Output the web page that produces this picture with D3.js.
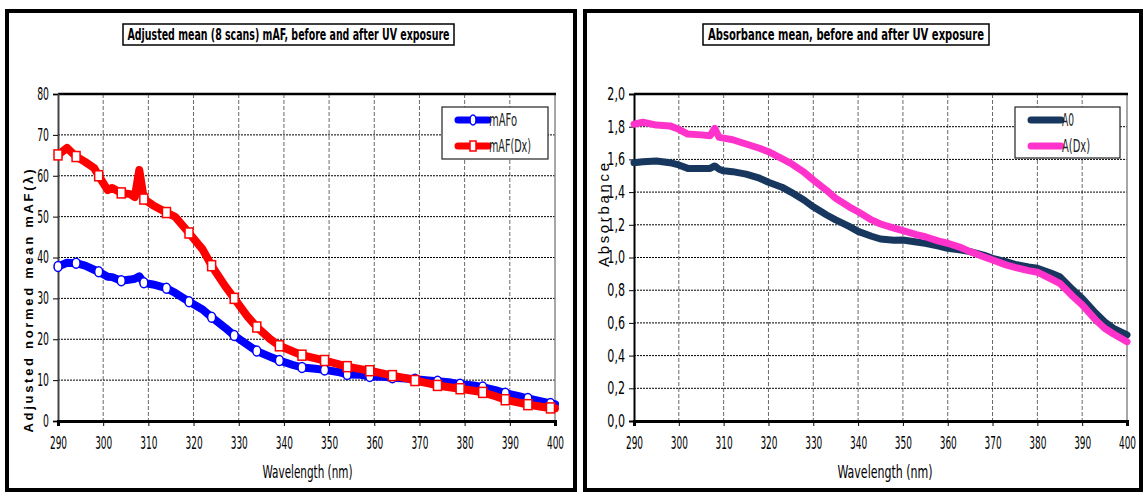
<!DOCTYPE html>
<html>
<head>
<meta charset="utf-8">
<script src="https://cdn.jsdelivr.net/npm/d3@7/dist/d3.min.js"></script>
<style>
  html, body { margin: 0; padding: 0; background: #fff; }
  svg { display: block; }
</style>
</head>
<body>
<svg id="chart" width="1144" height="492"></svg>
<script>
// ---------------- DATA ----------------
const xTicks = [290, 300, 310, 320, 330, 340, 350, 360, 370, 380, 390, 400];
const leftYTicks = [0, 10, 20, 30, 40, 50, 60, 70, 80];
const rightYTicks = [0, 0.2, 0.4, 0.6, 0.8, 1.0, 1.2, 1.4, 1.6, 1.8, 2.0];

const mafWavelengths = [290,292,294,296,298,299,301,302,304,306,307,308,309,311,314,316,319,322,324,327,329,332,334,337,339,342,344,347,349,352,354,357,359,362,364,367,369,372,374,377,379,382,384,387,389,392,394,397,399,400];
const mafMarkerWavelengths = [290,294,299,304,309,314,319,324,329,334,339,344,349,354,359,364,369,374,379,384,389,394,399];
const mAFo = [37.8,38.7,38.6,38.0,37.0,36.5,35.3,35.2,34.3,34.6,34.8,35.4,33.8,33.4,32.5,31.3,29.2,27.3,25.4,22.8,20.9,18.6,17.1,15.7,14.8,13.7,13.1,12.8,12.5,12.0,11.4,11.3,10.9,10.8,10.6,10.4,10.2,9.9,9.7,9.4,9.0,8.7,8.3,7.5,6.8,6.1,5.5,4.8,4.3,4.1];
const mAFDx = [65.1,66.8,64.7,63.4,61.9,60.0,56.5,57.0,55.8,55.5,54.8,61.4,54.3,52.8,51.0,49.9,46.0,42.0,38.0,33.0,30.0,25.5,23.0,20.0,18.4,17.0,16.1,15.3,14.8,13.9,13.3,12.7,12.3,11.6,11.1,10.5,9.9,9.2,8.7,8.2,7.9,7.4,7.0,6.0,5.2,4.5,4.0,3.5,3.2,3.1];

const absWavelengths = [290,292,295,298,300,302,305,307,308,309,310,312,315,318,320,323,325,328,330,333,335,338,340,343,345,348,350,353,355,358,360,363,365,368,370,373,375,378,380,383,385,388,390,393,395,397,400];
const A0 = [1.58,1.585,1.59,1.58,1.566,1.545,1.545,1.545,1.56,1.54,1.53,1.525,1.51,1.485,1.46,1.43,1.40,1.35,1.31,1.26,1.23,1.19,1.16,1.13,1.113,1.105,1.107,1.095,1.087,1.07,1.056,1.045,1.036,1.015,0.995,0.975,0.958,0.942,0.934,0.905,0.883,0.80,0.75,0.66,0.607,0.567,0.526];
const ADx = [1.815,1.827,1.81,1.805,1.784,1.755,1.75,1.745,1.79,1.735,1.73,1.72,1.694,1.668,1.647,1.605,1.576,1.52,1.474,1.41,1.362,1.31,1.28,1.23,1.205,1.18,1.164,1.14,1.127,1.10,1.087,1.06,1.036,1.005,0.985,0.955,0.94,0.92,0.91,0.87,0.842,0.76,0.71,0.618,0.567,0.532,0.485];

const leftTitle = "Adjusted mean (8 scans) mAF, before and after UV exposure";
const rightTitle = "Absorbance mean, before and after UV exposure";
const leftYLabel = "Adjusted normed mean mAF(\u03BB)";
const rightYLabel = "Absorbance";
const xLabel = "Wavelength (nm)";
const leftLegend = ["mAFo", "mAF(Dx)"];
const rightLegend = ["A0", "A(Dx)"];

// ---------------- DRAWING ----------------
const NARROW = "'Liberation Sans Narrow','Arial Narrow','DejaVu Sans Condensed',sans-serif";
const SANS = "'Liberation Sans',Arial,sans-serif";
const svg = d3.select("#chart");

function panel(o) {
  const g = svg.append("g");
  // outer frame
  g.append("rect").attr("x", o.frame[0]).attr("y", o.frame[1])
    .attr("width", o.frame[2]).attr("height", o.frame[3])
    .attr("fill", "#fff").attr("stroke", "#000").attr("stroke-width", 4);

  const x = d3.scaleLinear().domain([290, 400]).range([o.plot[0], o.plot[1]]);
  const y = d3.scaleLinear().domain(o.yDomain).range([o.plot[3], o.plot[2]]);

  // grid
  g.append("g").selectAll("line").data(xTicks.slice(1, -1)).join("line")
    .attr("x1", d => x(d)).attr("x2", d => x(d))
    .attr("y1", o.plot[2]).attr("y2", o.plot[3])
    .attr("stroke", "#6a6a6a").attr("stroke-width", 1).attr("stroke-dasharray", "4,2");
  g.append("g").selectAll("line").data(o.yTicks.slice(1, -1)).join("line")
    .attr("x1", o.plot[0]).attr("x2", o.plot[1])
    .attr("y1", d => y(d)).attr("y2", d => y(d))
    .attr("stroke", "#000").attr("stroke-width", 1).attr("stroke-dasharray", "2,1");

  // plot border: right thin gray, top thick black
  g.append("line").attr("x1", o.plot[1]).attr("x2", o.plot[1])
    .attr("y1", o.plot[2]).attr("y2", o.plot[3])
    .attr("stroke", "#8a8a8a").attr("stroke-width", 1.5);
  g.append("line").attr("x1", o.plot[0]).attr("x2", o.plot[1] + 1)
    .attr("y1", o.plot[2]).attr("y2", o.plot[2])
    .attr("stroke", "#000").attr("stroke-width", 2.5);

  // axes
  const yAxis = g.append("g").attr("transform", `translate(${o.plot[0]},0)`)
    .call(d3.axisLeft(y).tickValues(o.yTicks).tickSize(5).tickPadding(4).tickFormat(o.yFmt));
  yAxis.select(".domain").attr("stroke", o.leftAxisColor).attr("stroke-width", 2);
  yAxis.selectAll(".tick line").attr("stroke", "#000");
  yAxis.selectAll("text").attr("font-family", NARROW).attr("font-size", 17).attr("fill", "#000")
    .attr("textLength", function() { return this.textContent.length * 5.9; })
    .attr("lengthAdjust", "spacingAndGlyphs");

  const xAxis = g.append("g").attr("transform", `translate(0,${o.plot[3]})`)
    .call(d3.axisBottom(x).tickValues(xTicks).tickSize(5).tickPadding(11).tickFormat(d3.format("d")));
  xAxis.select(".domain").attr("stroke", "#000").attr("stroke-width", 3);
  xAxis.selectAll(".tick line").attr("stroke", "#000");
  xAxis.selectAll("text").attr("font-family", NARROW).attr("font-size", 17).attr("fill", "#000")
    .attr("textLength", function() { return this.textContent.length * 5.7; })
    .attr("lengthAdjust", "spacingAndGlyphs");

  // series
  const clip = g.append("g");
  o.series.forEach(s => {
    const pts = s.xs.map((w, i) => [w, s.ys[i]]);
    clip.append("path").datum(pts)
      .attr("d", d3.line().x(d => x(d[0])).y(d => y(d[1])))
      .attr("fill", "none").attr("stroke", s.color).attr("stroke-width", s.width)
      .attr("stroke-linejoin", "round").attr("stroke-linecap", "round");
    if (s.markers) {
      const mp = pts.filter(d => s.markers.includes(d[0]));
      if (s.shape === "circle") {
        clip.append("g").selectAll("ellipse").data(mp).join("ellipse")
          .attr("cx", d => x(d[0])).attr("cy", d => y(d[1]))
          .attr("rx", 4).attr("ry", 5)
          .attr("fill", "#fff").attr("stroke", s.color).attr("stroke-width", 1.5);
      } else {
        clip.append("g").selectAll("rect").data(mp).join("rect")
          .attr("x", d => x(d[0]) - 4).attr("y", d => y(d[1]) - 5)
          .attr("width", 8).attr("height", 10)
          .attr("fill", "#fff").attr("stroke", s.color).attr("stroke-width", 1.5);
      }
    }
  });

  // title box
  g.append("rect").attr("x", o.titleBox[0]).attr("y", o.titleBox[1])
    .attr("width", o.titleBox[2]).attr("height", o.titleBox[3])
    .attr("fill", "#fff").attr("stroke", "#000").attr("stroke-width", 1.5);
  g.append("text").attr("x", o.titleBox[0] + o.titleBox[2] / 2).attr("y", o.titleBox[1] + 16)
    .attr("text-anchor", "middle").attr("font-family", NARROW).attr("font-weight", "bold")
    .attr("font-size", 16.5).attr("textLength", o.titleLen).attr("lengthAdjust", "spacingAndGlyphs")
    .text(o.title);

  // y label
  g.append("text")
    .attr("transform", `translate(${o.yLabelPos[0]},${o.yLabelPos[1]}) rotate(-90)`)
    .attr("text-anchor", "middle").attr("font-family", SANS)
    .attr("font-weight", o.yLabelWeight).attr("font-size", o.yLabelSize)
    .attr("textLength", o.yLabelLen).attr("lengthAdjust", "spacing")
    .attr("dy", "0.35em").text(o.yLabel);

  // x label
  g.append("text").attr("x", o.xLabelPos[0]).attr("y", o.xLabelPos[1])
    .attr("text-anchor", "middle").attr("font-family", NARROW).attr("font-size", 17)
    .attr("textLength", o.xLabelLen).attr("lengthAdjust", "spacingAndGlyphs")
    .text(xLabel);

  // legend
  const L = o.legend;
  g.append("rect").attr("x", L.box[0]).attr("y", L.box[1]).attr("width", L.box[2]).attr("height", L.box[3])
    .attr("fill", "#fff").attr("stroke", "#222").attr("stroke-width", 1.2);
  o.series.forEach((s, i) => {
    const ly = L.box[1] + 13 + i * 26;
    const lx0 = L.box[0] + 16, lx1 = L.box[0] + 46;
    g.append("line").attr("x1", lx0).attr("x2", lx1).attr("y1", ly).attr("y2", ly)
      .attr("stroke", s.color).attr("stroke-width", 7).attr("stroke-linecap", "round");
    const mx = (lx0 + lx1) / 2;
    if (s.shape === "circle") {
      g.append("ellipse").attr("cx", mx).attr("cy", ly).attr("rx", 3).attr("ry", 5)
        .attr("fill", "#fff").attr("stroke", s.color).attr("stroke-width", 1.5);
    } else if (s.shape === "square") {
      g.append("rect").attr("x", mx - 3).attr("y", ly - 5).attr("width", 6).attr("height", 10)
        .attr("fill", "#fff").attr("stroke", s.color).attr("stroke-width", 1.5);
    }
    g.append("text").attr("x", lx1 + 1).attr("y", ly + 6)
      .attr("font-family", NARROW).attr("font-size", 17).attr("fill", "#222")
      .attr("textLength", L.textLens[i]).attr("lengthAdjust", "spacingAndGlyphs")
      .text(L.labels[i]);
  });
}

panel({
  frame: [7, 11, 568, 479],
  plot: [58, 555, 94, 421],
  yDomain: [0, 80], yTicks: leftYTicks, yFmt: d3.format("d"),
  leftAxisColor: "#444",
  series: [
    { xs: mafWavelengths, ys: mAFo, color: "#0000ff", width: 8, markers: mafMarkerWavelengths, shape: "circle" },
    { xs: mafWavelengths, ys: mAFDx, color: "#ff0000", width: 8, markers: mafMarkerWavelengths, shape: "square" }
  ],
  titleBox: [123, 24, 331, 21], title: leftTitle, titleLen: 322,
  yLabel: leftYLabel, yLabelPos: [28, 301], yLabelSize: 13, yLabelWeight: "bold", yLabelLen: 263,
  xLabelPos: [307.5, 478], xLabelLen: 90,
  legend: { box: [442, 107, 106, 52], labels: leftLegend, textLens: [28, 42] }
});

panel({
  frame: [585, 11, 556, 479],
  plot: [634, 1127, 94, 421],
  yDomain: [0, 2], yTicks: rightYTicks, yFmt: d => d3.format(".1f")(d).replace(".", ","),
  leftAxisColor: "#000",
  series: [
    { xs: absWavelengths, ys: A0, color: "#17375e", width: 7 },
    { xs: absWavelengths, ys: ADx, color: "#ff33cc", width: 7 }
  ],
  titleBox: [703, 24, 286, 21], title: rightTitle, titleLen: 276,
  yLabel: rightYLabel, yLabelPos: [604, 215], yLabelSize: 15, yLabelWeight: "normal", yLabelLen: 104,
  xLabelPos: [885, 478], xLabelLen: 95,
  legend: { box: [1015, 107, 105, 51], labels: rightLegend, textLens: [12, 28] }
});
</script>
</body>
</html>
